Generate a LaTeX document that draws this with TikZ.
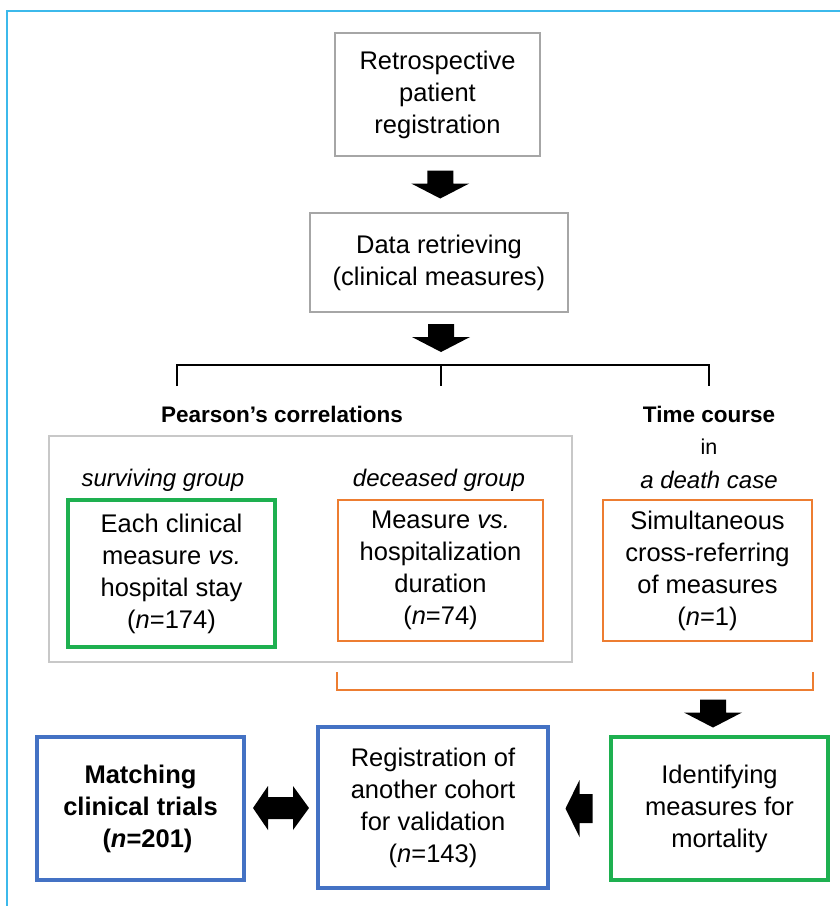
\documentclass[tikz,border=0pt]{standalone}
\usepackage{fontspec}
\setmainfont{Liberation Sans}
\usetikzlibrary{calc}
\definecolor{framecol}{RGB}{60,185,235}
\definecolor{graycol}{RGB}{166,166,166}
\definecolor{lgraycol}{RGB}{200,200,200}
\definecolor{greencol}{RGB}{30,176,80}
\definecolor{orangecol}{RGB}{237,125,49}
\definecolor{bluecol}{RGB}{68,114,196}
\tikzset{
  body/.style={font=\fontsize{25.5}{32}\selectfont, align=center, inner sep=0pt},
  graybox/.style={body, draw=graycol, line width=2pt},
  greenbox/.style={body, draw=greencol, line width=4pt},
  orangebox/.style={body, draw=orangecol, line width=2pt},
  bluebox/.style={body, draw=bluecol, line width=4pt},
  headlbl/.style={font=\fontsize{22.5}{26}\selectfont\bfseries, inner sep=0pt},
  grplbl/.style={font=\fontsize{24}{28}\selectfont\itshape, inner sep=0pt},
  brack/.style={black, line width=1.2pt},
  obrack/.style={orangecol, line width=1.6pt},
  pics/dnarrow/.style={code={\fill[black] (-13,-14) -- (13,-14) -- (13,-1) -- (29,-1) -- (0,14) -- (-29,-1) -- (-13,-1) -- cycle;}},
  pics/ltarrow/.style={code={\fill[black] (13,-14.5) -- (13,14.5) -- (0,14.5) -- (0,28.5) -- (-14,0) -- (0,-28.5) -- (0,-14.5) -- cycle;}},
  pics/dblarrow/.style={code={\fill[black] (-28,0) -- (-13,-22) -- (-13,-11) -- (12,-11) -- (12,-22) -- (28,0) -- (12,22) -- (12,11) -- (-13,11) -- (-13,22) -- cycle;}}
}
\begin{document}
\begin{tikzpicture}[x=1pt, y=-1pt]
\useasboundingbox (0,0) rectangle (840,906);
% frame
\draw[framecol, line width=2pt] (7,920) -- (7,11) -- (860,11);

% top boxes
\node[graybox, minimum width=205pt, minimum height=123pt] (reg) at (437.5,94.5) {Retrospective\\patient\\registration};
\node[graybox, minimum width=258pt, minimum height=99pt] (data) at (439,262.5) {Data retrieving\\(clinical measures)};

% block arrows down
\coordinate (a1) at ($(reg.south)!0.5!(data.north)$);
\pic at ([xshift=2pt]a1) {dnarrow};
\coordinate (a2) at (441,338);
\pic at (a2) {dnarrow};

% bracket
\coordinate (bl) at (177,386);
\coordinate (br) at (709,386);
\coordinate (bm) at (441,386);
\draw[brack] (bl) -- (177,365) -- (709,365) -- (br);
\draw[brack] (441,365) -- (bm);

% labels
\node[headlbl] (pear) at (282,414) {Pearson’s correlations};
\node[headlbl] (time) at (709,414) {Time course};
\node[font=\fontsize{21.5}{26}\selectfont, inner sep=0pt] (inlbl) at (709,447) {in};
\node[grplbl] (death) at (709,480) {a death case};

% Pearson group box
\node[draw=lgraycol, line width=1.5pt, minimum width=523pt, minimum height=226pt, inner sep=0pt] (pbox) at (310.5,549) {};
\node[grplbl] (surv) at (163,480) {surviving group};
\node[grplbl] (dec) at (439,480) {deceased group};

\node[greenbox, minimum width=207pt, minimum height=147pt] (g1) at (171.5,573.5) {Each clinical\\measure \textit{vs.}\\hospital stay\\(\textit{n}=174)};
\node[orangebox, minimum width=205pt, minimum height=141pt] (o1) at (440.5,570.5) {Measure \textit{vs.}\\hospitalization\\duration\\(\textit{n}=74)};
\node[orangebox, minimum width=209pt, minimum height=141pt] (o2) at (707.5,570.5) {Simultaneous\\cross-referring\\of measures\\(\textit{n}=1)};

% orange bracket
\coordinate (obl) at ($(o1.south west)+(0,30)$);
\coordinate (obr) at ($(o2.south east)+(0,30)$);
\draw[obrack] (obl) -- ($(obl)+(0,18)$) -- ($(obr)+(0,18)$) -- (obr);

% bottom boxes
\node[greenbox, minimum width=217pt, minimum height=143pt] (g2) at (719.5,808.5) {Identifying\\measures for\\mortality};
\node[bluebox, minimum width=230pt, minimum height=161pt] (b2) at (433,807.5) {Registration of\\another cohort\\for validation\\(\textit{n}=143)};
\node[bluebox, minimum width=207pt, minimum height=143pt, font=\fontsize{25.5}{32}\selectfont\bfseries] (b1) at (140.5,808.5) {Matching\\clinical trials\\\hspace*{14pt}(\textit{n}=201)};

% arrows
\coordinate (a3) at (713,713.5);
\pic at (a3) {dnarrow};
\coordinate (a4) at ($(b2.east)!0.5!(g2.west)+(0,0.5)$);
\pic at (a4) {ltarrow};
\coordinate (a5) at ($(b1.east)!0.5!(b2.west)$);
\pic at (a5) {dblarrow};
\end{tikzpicture}
\end{document}
